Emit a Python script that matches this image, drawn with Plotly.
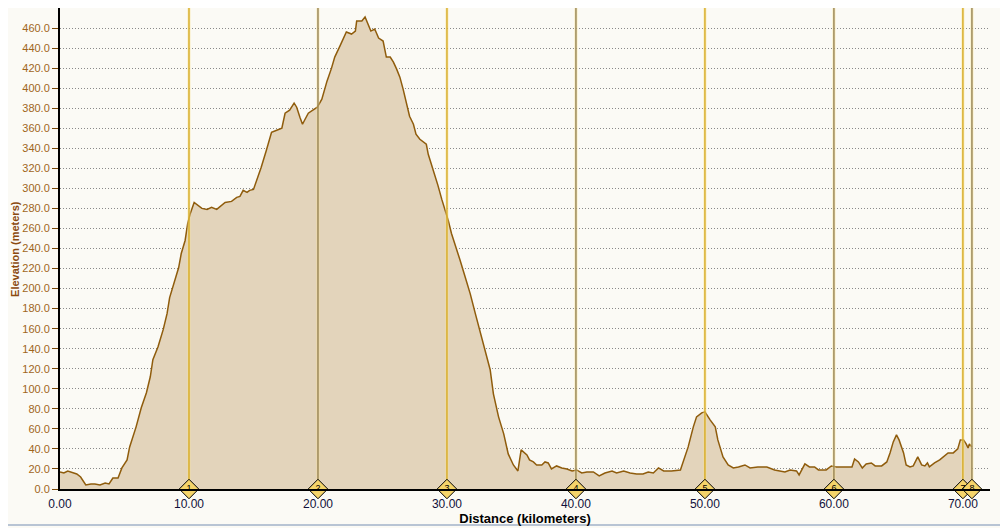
import plotly.graph_objects as go

# perfil de elevacion (km, m)
dist_km = [0.0, 0.3, 0.6, 0.9, 1.3, 1.6, 2.0, 2.4, 2.7, 3.1, 3.5, 3.8, 4.1, 4.5, 4.8,
           5.2, 5.4, 5.9, 6.3, 6.7, 7.0, 7.2, 7.6, 8.0, 8.3, 8.5, 8.9, 9.2, 9.4, 9.7,
           9.9, 10.1, 10.4, 10.7, 11.0, 11.4, 11.75, 12.15, 12.4, 12.8, 13.3, 13.7,
           13.95, 14.2, 14.5, 14.7, 15.0, 15.25, 15.6, 16.0, 16.4, 16.8, 17.2, 17.45,
           17.8, 18.15, 18.35, 18.6, 18.8, 19.0, 19.25, 19.6, 19.95, 20.3, 20.7, 21.05,
           21.3, 21.7, 21.95, 22.2, 22.6, 22.9, 23.0, 23.4, 23.65, 23.9, 24.1, 24.4,
           24.7, 25.05, 25.3, 25.6, 25.85, 26.1, 26.35, 26.6, 26.9, 27.1, 27.4, 27.6,
           27.9, 28.4, 28.55, 28.8, 29.05, 29.3, 29.6, 29.85, 30.1, 30.35, 30.75, 31.0,
           31.4, 31.8, 32.2, 32.55, 32.95, 33.35, 33.6, 34.0, 34.4, 34.75, 35.15, 35.5,
           35.75, 36.2, 36.4, 36.7, 36.95, 37.35, 37.6, 37.85, 38.1, 38.5, 38.9, 39.3,
           39.7, 40.05, 40.45, 40.85, 41.35, 41.8, 42.25, 42.8, 43.15, 43.7, 44.2, 44.7,
           45.2, 45.6, 46.0, 46.4, 46.8, 47.4, 48.1, 48.3, 48.7, 49.1, 49.35, 49.75,
           50.0, 50.4, 50.8, 51.0, 51.4, 51.8, 52.2, 52.6, 53.1, 53.5, 54.1, 54.8, 55.4,
           56.2, 56.6, 57.1, 57.3, 57.75, 58.1, 58.5, 58.8, 59.4, 59.8, 60.2, 60.7, 61.4,
           61.6, 61.9, 62.2, 62.5, 62.9, 63.2, 63.7, 64.1, 64.35, 64.6, 64.85, 65.05,
           65.4, 65.6, 65.9, 66.15, 66.5, 66.8, 67.05, 67.25, 67.4, 67.8, 68.2, 68.6,
           68.85, 69.25, 69.6, 69.8, 70.05, 70.25, 70.4, 70.5, 70.7]
elev_m = [17, 16, 18, 17, 15, 12, 4, 5, 5, 4, 6, 5, 11, 11, 21,
          29, 42, 62, 81, 96, 112, 129, 142, 159, 175, 191, 208, 221, 235, 248,
          265, 275, 286, 283, 280, 279, 281, 279, 282, 286, 287, 291,
          292, 298, 296, 298, 299, 308, 321, 338, 356, 358, 360, 375,
          378, 385, 381, 371, 364, 369, 375, 378, 381, 389, 407, 420,
          431, 442, 450, 456, 454, 457, 467, 467, 471, 464, 457, 459,
          450, 447, 431, 431, 426, 419, 411, 399, 381, 372, 364, 354,
          349, 344, 334, 324, 314, 303, 289, 279, 268, 255, 240, 229,
          212, 195, 175, 158, 138, 119, 95, 72, 55, 35, 24, 18,
          39, 34, 29, 27, 24, 24, 27, 26, 20, 23, 21, 20,
          18, 19, 16, 17, 17, 13, 16, 18, 16, 18, 16, 15,
          15, 17, 16, 21, 18, 18, 19, 26, 42, 62, 72, 76,
          77, 69, 62, 49, 32, 24, 21, 22, 24, 21, 22, 22, 19,
          17, 19, 18, 14, 25, 22, 22, 19, 19, 23, 22, 22, 22,
          30, 27, 21, 25, 26, 23, 23, 27, 36, 47, 54, 49,
          36, 24, 22, 23, 32, 24, 23, 26, 22, 26, 29, 33,
          36, 36, 40, 49, 49, 45, 41, 45, 42]

# puntos de paso
wp_km = [10, 20, 30, 40, 50, 60, 70, 70.7]
wp_labels = ['1', '2', '3', '4', '5', '6', '7', '8']

x_ticks = [0, 10, 20, 30, 40, 50, 60, 70]
y_ticks = list(range(0, 461, 20))
x_max = 72.1
y_max = 480

bg = '#fbfaf5'
fig = go.Figure()

fig.add_trace(go.Scatter(
    x=dist_km, y=elev_m, mode='lines', fill='tozeroy',
    fillcolor='#e3d4bb', line=dict(color='#8f5c0c', width=1.5),
    showlegend=False, hoverinfo='skip'))

# lineas verticales de los puntos de paso
for i, km in enumerate(wp_km):
    col = '#d0a010' if i % 2 == 0 else '#857248'
    fig.add_trace(go.Scatter(
        x=[km, km], y=[0, y_max], mode='lines',
        line=dict(color='rgba(250,228,150,0.6)', width=3),
        showlegend=False, hoverinfo='skip'))
    fig.add_trace(go.Scatter(
        x=[km, km], y=[0, y_max], mode='lines',
        line=dict(color=col, width=1.2),
        showlegend=False, hoverinfo='skip'))

fig.add_trace(go.Scatter(
    x=wp_km, y=[0] * len(wp_km), mode='markers+text',
    text=wp_labels, textposition='middle center',
    textfont=dict(size=9, color='#000000', family='Liberation Sans'),
    marker=dict(symbol='diamond', size=15, color='#f5d46a',
                line=dict(color='#000000', width=1)),
    cliponaxis=False, showlegend=False, hoverinfo='skip'))

# la pagina tiene 8px de margen en el body
fig.update_layout(
    width=1000, height=520,
    margin=dict(l=52, r=18, t=0, b=39),
    paper_bgcolor=bg, plot_bgcolor=bg,
    font=dict(family='Liberation Sans', size=12),
    shapes=[dict(type='line', xref='paper', yref='paper',
                 x0=-0.06, x1=1.02, y0=-0.075, y1=-0.075,
                 line=dict(color='#b8c4d4', width=2))],
    # titulo del eje y como anotacion para dejarlo mas a la izquierda
    annotations=[dict(text='<b>Elevation (meters)</b>', textangle=-90,
                      xref='paper', yref='paper', x=-0.049, y=0.5,
                      xanchor='center', yanchor='middle', showarrow=False,
                      font=dict(size=11, color='#8b4a10'))],
)

fig.update_xaxes(
    range=[0, x_max], tickvals=x_ticks, automargin=False,
    ticktext=['%.2f' % v for v in x_ticks],
    tickfont=dict(color='#10103a', size=12),
    showgrid=False, zeroline=False,
    showline=True, linecolor='#000000', linewidth=2,
    ticks='outside', ticklen=3, tickcolor='rgba(0,0,0,0)',
    title=dict(text='<b>Distance (kilometers)</b>',
               font=dict(size=13, color='#000000'), standoff=0))

fig.update_yaxes(
    range=[0, y_max], tickvals=y_ticks, automargin=False,
    ticktext=['%.1f' % v for v in y_ticks],
    tickfont=dict(color='#a0661c', size=11),
    showgrid=True, gridcolor='#8a8a8a', griddash='1px,2px', gridwidth=1,
    zeroline=False, showline=True, linecolor='#000000', linewidth=2,
    ticks='outside', ticklen=6, tickcolor='#7a4a0a')

fig.write_html("out.html")
